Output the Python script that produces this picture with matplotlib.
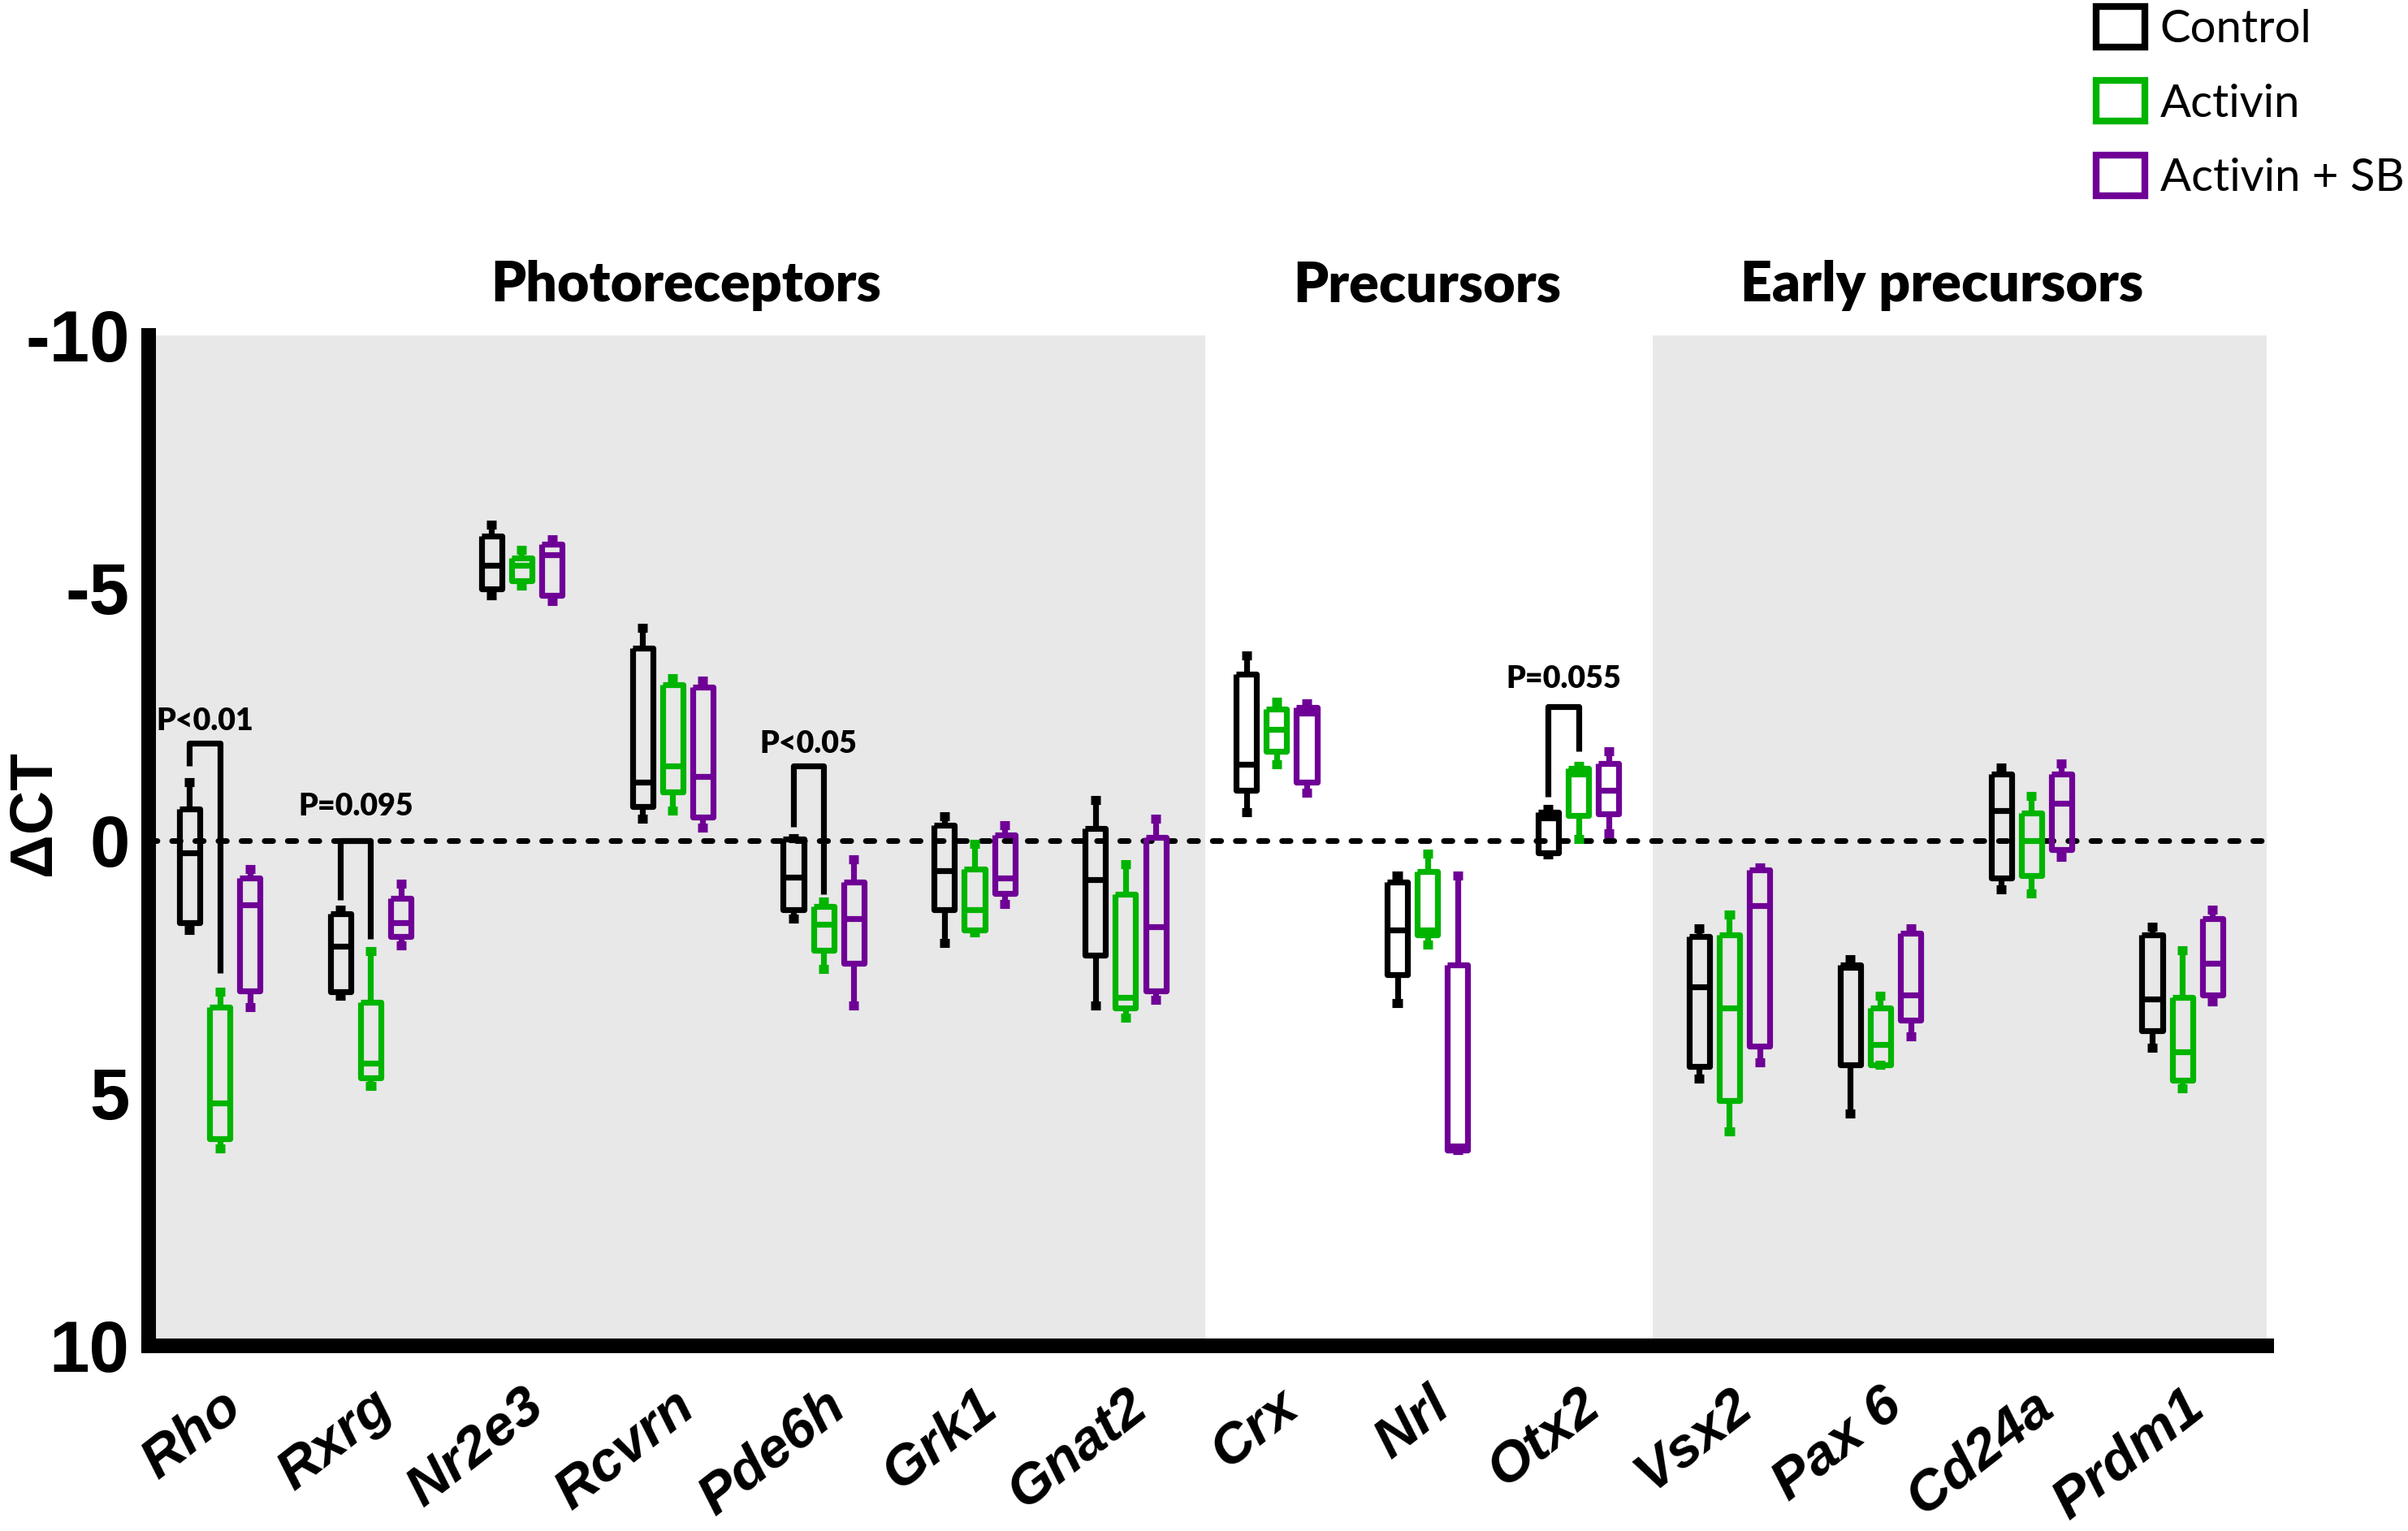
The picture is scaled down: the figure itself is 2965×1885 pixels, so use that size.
import numpy as np
import matplotlib.pyplot as plt
from matplotlib.patches import Patch


genes = ['Rho', 'Rxrg', 'Nr2e3', 'Rcvrn', 'Pde6h', 'Grk1', 'Gnat2',
         'Crx', 'Nrl', 'Otx2', 'Vsx2', 'Pax 6', 'Cd24a', 'Prdm1']

# box stats per gene: [whisker low, q1, median, q3, whisker high]
control = [
    [-1.16, -0.63, 0.24, 1.63, 1.77],
    [1.37, 1.45, 2.10, 3.00, 3.07],
    [-6.25, -6.03, -5.45, -4.98, -4.85],
    [-4.21, -3.81, -1.16, -0.68, -0.43],
    [-0.05, -0.03, 0.72, 1.37, 1.55],
    [-0.48, -0.30, 0.59, 1.37, 2.03],
    [-0.80, -0.24, 0.77, 2.27, 3.26],
    [-3.66, -3.30, -1.51, -1.00, -0.56],
    [0.69, 0.82, 1.77, 2.65, 3.21],
    [-0.63, -0.56, -0.45, 0.24, 0.27],
    [1.74, 1.90, 2.89, 4.47, 4.71],
    [2.35, 2.46, 2.51, 4.44, 5.40],
    [-1.45, -1.32, -0.60, 0.74, 0.96],
    [1.71, 1.87, 3.13, 3.77, 4.10],
]
activin = [
    [3.00, 3.30, 5.20, 5.90, 6.10],
    [2.19, 3.20, 4.40, 4.70, 4.85],
    [-5.76, -5.60, -5.45, -5.15, -5.05],
    [-3.22, -3.09, -1.48, -0.97, -0.60],
    [1.20, 1.30, 1.65, 2.17, 2.54],
    [0.06, 0.56, 1.37, 1.77, 1.82],
    [0.47, 1.06, 3.10, 3.31, 3.50],
    [-2.75, -2.60, -2.20, -1.77, -1.51],
    [0.26, 0.61, 1.77, 1.87, 2.06],
    [-1.48, -1.43, -1.32, -0.49, -0.03],
    [1.46, 1.87, 3.31, 5.15, 5.76],
    [3.07, 3.31, 4.03, 4.44, 4.44],
    [-0.89, -0.54, 0.01, 0.69, 1.04],
    [2.17, 3.10, 4.18, 4.74, 4.90],
]
activin_sb = [
    [0.56, 0.74, 1.28, 2.97, 3.30],
    [0.85, 1.14, 1.62, 1.90, 2.08],
    [-5.97, -5.87, -5.66, -4.85, -4.74],
    [-3.17, -3.04, -1.27, -0.47, -0.25],
    [0.37, 0.82, 1.54, 2.43, 3.26],
    [-0.30, -0.11, 0.74, 1.04, 1.25],
    [-0.43, -0.06, 1.70, 2.97, 3.15],
    [-2.72, -2.63, -2.52, -1.16, -0.95],
    [0.69, 2.46, 6.05, 6.13, 6.13],
    [-1.77, -1.53, -1.00, -0.53, -0.14],
    [0.53, 0.58, 1.29, 4.07, 4.39],
    [1.74, 1.84, 3.05, 3.56, 3.87],
    [-1.53, -1.32, -0.73, 0.18, 0.32],
    [1.37, 1.55, 2.43, 3.05, 3.18],
]

conditions = ['Control', 'Activin', 'Activin + SB']
colors = ['#000000', '#00b400', '#6f0096']

sections = ['Photoreceptors', 'Precursors', 'Early precursors']
section_x = [3.09, 8.0, 11.41]

# significance brackets: gene index, label, top, left leg end, right leg end, label y
sig_gene = [0, 1, 4, 9]
sig_text = ['P<0.01', 'P=0.095', 'P<0.05', 'P=0.055']
sig_top = [-1.93, 0.0, -1.48, -2.65]
sig_left = [-1.48, 1.17, -0.27, -0.87]
sig_right = [2.62, 1.95, 1.06, -1.77]
sig_label_y = [-2.36, -0.67, -1.91, -3.2]


fig = plt.figure(figsize=(29.65, 18.85), dpi=100)
ax = fig.add_axes([0.0618, 0.121, 0.8796, 0.66])

ax.axvspan(-0.47, 6.53, color='#e8e8e8', lw=0, zorder=0)
ax.axvspan(9.49, 13.56, color='#e8e8e8', lw=0, zorder=0)
ax.axhline(0, color='black', lw=5, ls=(0, (1.5, 2.6)),
           dash_capstyle='round', zorder=1)

offsets = [-0.2, 0.0, 0.2]
for data, col, off in zip([control, activin, activin_sb], colors, offsets):
    stats = [dict(whislo=v[0], q1=v[1], med=v[2], q3=v[3], whishi=v[4]) for v in data]
    line = dict(color=col, lw=5.2, solid_joinstyle='round', solid_capstyle='butt')
    ax.bxp(stats, positions=np.arange(len(genes)) + off, widths=0.135,
           showfliers=False, capwidths=0.065, manage_ticks=False,
           boxprops=line, medianprops=line, whiskerprops=line,
           capprops=dict(color=col, lw=8, solid_capstyle='butt'), zorder=3)

for g, txt, top, yl, yr, ly in zip(sig_gene, sig_text, sig_top, sig_left, sig_right, sig_label_y):
    xl, xr = g - 0.2, g
    ax.plot([xl, xl, xr, xr], [yl, top, top, yr], color='black', lw=5.2,
            solid_joinstyle='round', solid_capstyle='butt', zorder=4)
    ax.text((xl + xr) / 2, ly, txt, ha='center', va='center', fontsize=27,
            fontweight='heavy', family='Lato', zorder=5)

for name, x in zip(sections, section_x):
    ax.text(x, -10.98, name, ha='center', va='center', fontsize=49,
            fontweight='heavy', family='Lato', clip_on=False)

ax.set_xlim(-0.47, 13.56)
ax.set_ylim(10, -10)
ax.set_yticks([-10, -5, 0, 5, 10])
ax.set_yticklabels(['-10', '-5', '0', '5', '10'], fontsize=64,
                   fontweight='bold', family='Liberation Sans')
ax.set_xticks(np.arange(len(genes)))
ax.set_xticklabels(genes, rotation=38, ha='right', va='top', rotation_mode='anchor',
                   fontsize=50, fontweight='bold', fontstyle='italic',
                   family='Liberation Sans')
ax.tick_params(axis='x', length=0, pad=30)
ax.tick_params(axis='y', length=5, width=13, pad=12)

ax.set_ylabel('ΔCT', fontsize=54, fontweight='bold', family='Liberation Sans')
ax.yaxis.set_label_coords(-0.041, 0.527)

for s in ['top', 'right']:
    ax.spines[s].set_visible(False)
for s in ['left', 'bottom']:
    ax.spines[s].set_linewidth(13)

handles = [Patch(facecolor='none', edgecolor=c, lw=6, joinstyle='round') for c in colors]
fig.legend(handles, conditions, loc='upper left', bbox_to_anchor=(0.8705, 0.996),
           frameon=False, borderpad=0, borderaxespad=0, handlelength=1.07,
           handleheight=1.0, handletextpad=0.33, labelspacing=0.66,
           prop={'family': 'Lato', 'size': 40.5})

fig.savefig('out.png', dpi=100)
